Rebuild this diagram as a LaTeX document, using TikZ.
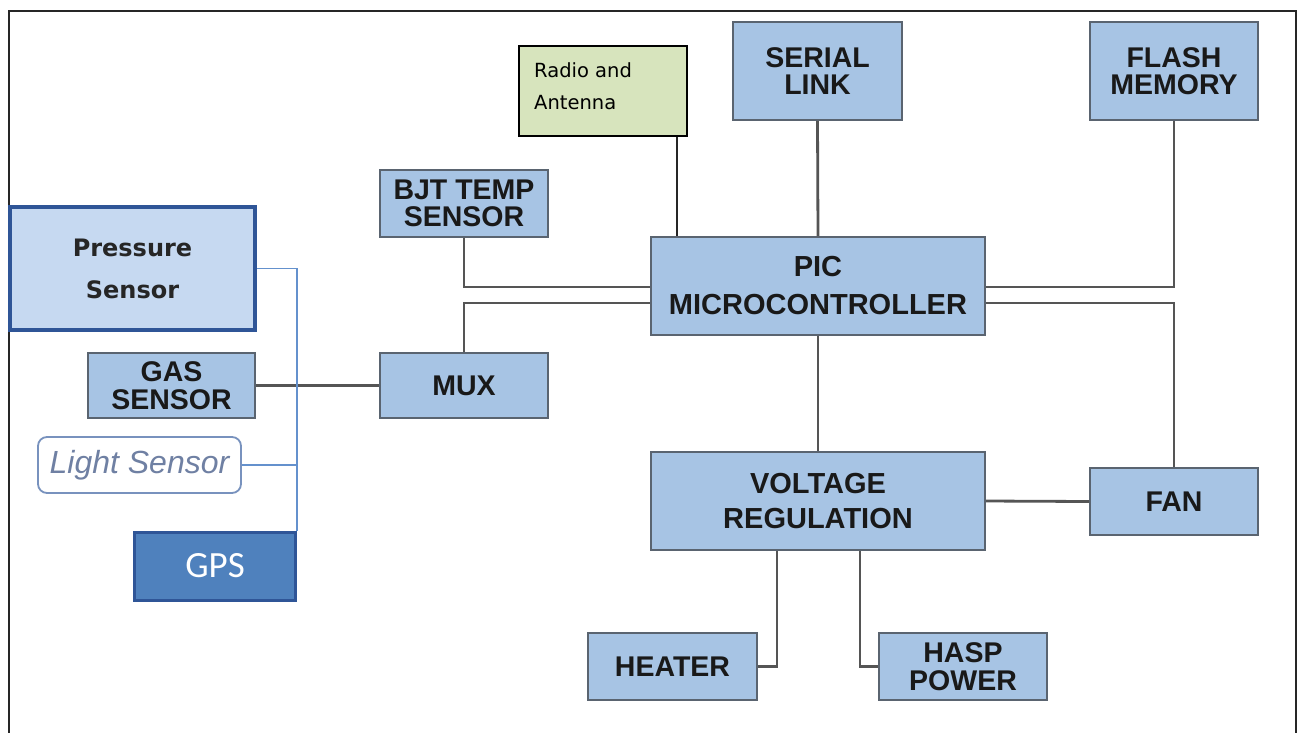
\documentclass[tikz,border=0pt]{standalone}
\usepackage{fontspec}
\setmainfont{Liberation Sans}
\newfontfamily\dejavu{DejaVu Sans}
\newfontfamily\carlito{Carlito}
\definecolor{boxfill}{HTML}{A7C4E4}
\definecolor{boxedge}{HTML}{5A6470}
\definecolor{wire}{HTML}{555555}
\definecolor{radiofill}{HTML}{D7E4BD}
\definecolor{pressfill}{HTML}{C6D9F1}
\definecolor{darkblue}{HTML}{2F5597}
\definecolor{gpsfill}{HTML}{4F81BD}
\definecolor{lightedge}{HTML}{7892BE}
\definecolor{lighttext}{HTML}{6F80A3}
\definecolor{bluewire}{HTML}{6491CD}
\tikzset{
  blockbox/.style={draw=boxedge, line width=1.8pt, fill=boxfill, inner sep=0pt,
    align=center, font=\bfseries\fontsize{28.5}{27.5}\selectfont, text=black!90},
  wireline/.style={draw=wire, line width=2.8pt},
  bluewireline/.style={draw=bluewire, line width=1.8pt},
}
\begin{document}
\begin{tikzpicture}[x=1pt,y=-1pt]
\useasboundingbox (0,0) rectangle (1298,732);
\fill[white] (0,0) rectangle (1298,732);
% frame
\draw[line width=1.5pt, black!85] (9,745) -- (9,11) -- (1296,11) -- (1296,745);

% blocks
\node[blockbox, minimum width=169, minimum height=98] (serial) at (817.5,71) {SERIAL\\LINK};
\node[blockbox, minimum width=168, minimum height=98] (flash) at (1174,71) {FLASH\\MEMORY};
\node[blockbox, minimum width=168, minimum height=67] (bjt) at (464,203.5) {BJT TEMP\\SENSOR};
\node[blockbox, minimum width=334, minimum height=98, font=\bfseries\fontsize{29}{38}\selectfont] (pic) at (818,286) {PIC\\MICROCONTROLLER};
\node[blockbox, minimum width=167, minimum height=65] (gas) at (171.5,385.5) {GAS\\SENSOR};
\node[blockbox, minimum width=168, minimum height=65] (mux) at (464,385.5) {MUX};
\node[blockbox, minimum width=334, minimum height=98, font=\bfseries\fontsize{29}{35}\selectfont] (vr) at (818,501) {VOLTAGE\\REGULATION};
\node[blockbox, minimum width=168, minimum height=67] (fan) at (1174,501.5) {FAN};
\node[blockbox, minimum width=169, minimum height=67] (heater) at (672.5,666.5) {HEATER};
\node[blockbox, minimum width=168, minimum height=67] (hasp) at (963,666.5) {HASP\\POWER};

% radio
\node[draw=black, line width=1.2pt, fill=radiofill, minimum width=168, minimum height=90, inner sep=0pt] (radio) at (603,91) {};
\node[anchor=north west, align=left, inner sep=0pt, font=\dejavu\fontsize{19.5}{32}\selectfont] (radiotext) at (534,62) {Radio and\\Antenna};

% pressure sensor
\node[draw=darkblue, line width=4.5pt, fill=pressfill, minimum width=245, minimum height=123, inner sep=0pt,
  align=center, font=\dejavu\bfseries\fontsize{24}{42}\selectfont, text=black!85] (press) at (132.5,268.5) {Pressure\\Sensor};
% light sensor
\node[draw=lightedge, line width=1.8pt, fill=white, rounded corners=9pt, minimum width=203, minimum height=56, inner sep=0pt,
  font=\itshape\fontsize{32}{32}\selectfont, text=lighttext] (light) at (139.5,465) {Light Sensor};
% GPS
\node[draw=darkblue, line width=3pt, fill=gpsfill, minimum width=161, minimum height=68, inner sep=0pt,
  font=\carlito\fontsize{37}{37}\selectfont, text=white] (gps) at (215,566) {GPS};

% helper coordinates
\coordinate (yA) at (0,287);
\coordinate (yB) at (0,303);
\coordinate (xR) at (677,0);
\coordinate (xH) at (777,0);
\coordinate (xP) at (860,0);

% connectors
\draw[wireline] (bjt.south) |- (yA -| pic.west);
\draw[wireline] (mux.north) |- (yB -| pic.west);
\draw[wireline] (gas.east) -- (mux.west);
\draw[draw=black!85, line width=1.3pt] (radio.south -| xR) -- (pic.north -| xR);
\draw[wireline] (serial.south) -- (pic.north);
\draw[wireline] (flash.south) |- (yA -| pic.east);
\draw[wireline] (fan.north) |- (yB -| pic.east);
\draw[wireline] (pic.south) -- (vr.north);
\draw[wireline] (vr.east) -- (fan.west);
\draw[wireline] (vr.south -| xH) |- (heater.east);
\draw[wireline] (vr.south -| xP) |- (hasp.west);
\draw[bluewireline] (press.east) -| (gps.north east);
\draw[bluewireline] (light.east) -- (light.east -| gps.north east);
\end{tikzpicture}
\end{document}
